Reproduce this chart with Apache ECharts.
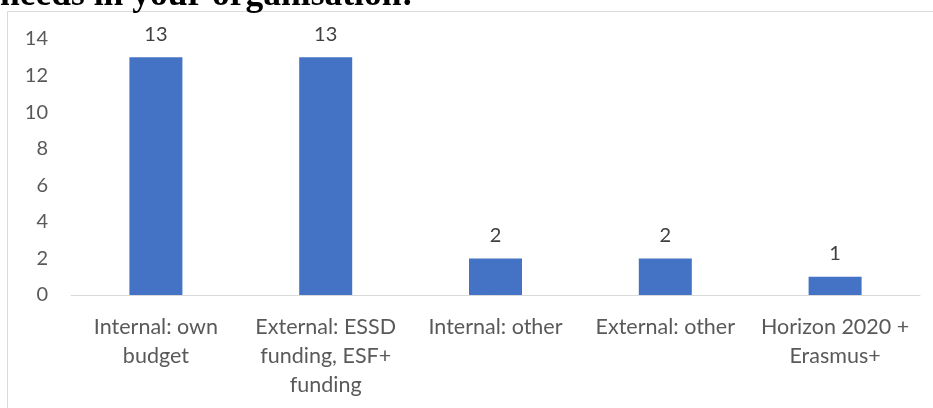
<!DOCTYPE html>
<html>
<head>
<meta charset="utf-8">
<script src="https://cdn.jsdelivr.net/npm/echarts@6/dist/echarts.min.js"></script>
<style>html,body{margin:0;padding:0;background:#fff;}#c{width:933px;height:408px;}</style>
</head>
<body>
<div id="c"></div>
<script>
const titleText = 'needs in your organisation:';
const categories = ['Internal: own\nbudget', 'External: ESSD\nfunding, ESF+\nfunding', 'Internal: other', 'External: other', 'Horizon 2020 +\nErasmus+'];
const values = [13, 13, 2, 2, 1];
const yTicks = { min: 0, max: 14, interval: 2 };

const chart = echarts.init(document.getElementById('c'));
const textColor = '#595959';
const font = 'Lato, Calibri, Carlito, sans-serif';
chart.setOption({
  animation: false,
  graphic: [
    { type: 'rect', shape: { x: 7.5, y: 11.5, width: 1000, height: 1000 }, style: { fill: 'none', stroke: '#d9d9d9', lineWidth: 1 }, z: 0 },
    { type: 'text', left: 0, top: -22, style: { text: titleText, font: 'bold 35.5px "Liberation Serif", "Times New Roman", serif', fill: '#000' }, z: 10 }
  ],
  grid: { left: 71, right: 13, top: 39, bottom: 113, containLabel: false },
  xAxis: {
    type: 'category',
    data: categories,
    axisLine: { lineStyle: { color: '#d9d9d9', width: 1 } },
    axisTick: { show: false },
    axisLabel: { color: textColor, fontFamily: font, fontSize: 21.5, lineHeight: 29, margin: 18, interval: 0 }
  },
  yAxis: {
    type: 'value',
    min: yTicks.min, max: yTicks.max, interval: yTicks.interval,
    axisLine: { show: false },
    axisTick: { show: false },
    splitLine: { show: false },
    axisLabel: { color: textColor, fontFamily: font, fontSize: 20, margin: 23 }
  },
  series: [{
    type: 'bar',
    data: values,
    barWidth: 53,
    itemStyle: { color: '#4472C4' },
    label: { show: true, position: 'top', distance: 11, color: '#404040', fontFamily: font, fontSize: 20, lineHeight: 24 }
  }]
});
</script>
</body>
</html>
